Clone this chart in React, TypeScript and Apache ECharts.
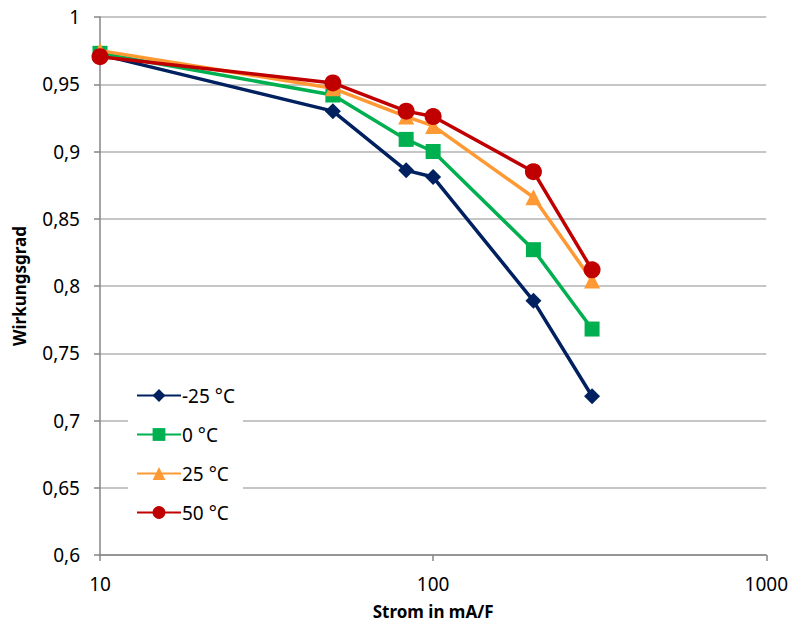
import React, { useEffect, useRef } from "react";
import * as echarts from "echarts";

const xValues = [10, 50, 83, 100, 200, 300];
const seriesNames = ["-25 °C", "0 °C", "25 °C", "50 °C"];
const minus25 = [0.972, 0.93, 0.886, 0.881, 0.789, 0.718];
const zero = [0.973, 0.942, 0.909, 0.9, 0.827, 0.768];
const plus25 = [0.975, 0.947, 0.926, 0.919, 0.866, 0.804];
const plus50 = [0.9705, 0.951, 0.93, 0.926, 0.885, 0.812];
const xTicks = [10, 100, 1000];
const yTicks = [0.6, 0.65, 0.7, 0.75, 0.8, 0.85, 0.9, 0.95, 1];

const colors = ["#002060", "#00B050", "#FF9933", "#C00000"];
const symbols = ["diamond", "rect", "triangle", "circle"];
const symbolSizes = [16, 15, 16, 17];
const allValues = [minus25, zero, plus25, plus50];

export default function App() {
  const ref = useRef<HTMLDivElement>(null);
  useEffect(() => {
    document.body.style.margin = "0";
    const chart = echarts.init(ref.current!, undefined, { renderer: "svg" });
    const font = "Noto Sans";
    chart.setOption({
      animation: false,
      backgroundColor: "#ffffff",
      grid: { left: 100, right: 24, top: 17, bottom: 77 },
      legend: {
        orient: "vertical",
        left: 128,
        top: 379,
        backgroundColor: "#ffffff",
        padding: [7, 8, 8, 8],
        itemWidth: 44,
        itemHeight: 16,
        itemGap: 20,
        textStyle: { fontFamily: font, fontSize: 19, color: "#000", padding: [0, 0, 0, -4] },
        data: seriesNames,
      },
      xAxis: {
        type: "log",
        logBase: 10,
        min: 10,
        max: 1000,
        name: "Strom in mA/F",
        nameLocation: "middle",
        nameGap: 48,
        nameTextStyle: { fontFamily: font, fontSize: 17, fontWeight: "bold", color: "#000" },
        axisLine: { show: true, lineStyle: { color: "#868686", width: 1.5 } },
        axisTick: { show: true, length: 6, lineStyle: { color: "#868686", width: 1.5 } },
        axisLabel: {
          fontFamily: font,
          fontSize: 19,
          color: "#000",
          margin: 19,
          formatter: (v: number) => (xTicks.includes(Math.round(v)) ? String(Math.round(v)) : ""),
        },
        splitLine: { show: false },
        minorTick: { show: false },
      },
      yAxis: {
        type: "value",
        min: 0.6,
        max: 1,
        interval: 0.05,
        name: "Wirkungsgrad",
        nameLocation: "middle",
        nameGap: 72,
        nameTextStyle: { fontFamily: font, fontSize: 17, fontWeight: "bold", color: "#000" },
        axisLine: { show: true, lineStyle: { color: "#868686", width: 1.5 } },
        axisTick: { show: true, length: 6, lineStyle: { color: "#868686", width: 1.5 } },
        axisLabel: {
          fontFamily: font,
          fontSize: 19,
          color: "#000",
          margin: 20,
          formatter: (v: number) => {
            const t = yTicks.find((y) => Math.abs(y - v) < 1e-6);
            return t === undefined ? "" : String(t).replace(".", ",");
          },
        },
        splitLine: { show: true, lineStyle: { color: "#B3B3B3", width: 1.5 } },
      },
      series: seriesNames.map((name, i) => ({
        name,
        type: "line",
        data: xValues.map((x, j) => [x, allValues[i][j]]),
        symbol: symbols[i],
        symbolSize: symbolSizes[i],
        showAllSymbol: true,
        lineStyle: { color: colors[i], width: 3.5 },
        itemStyle: { color: colors[i], borderWidth: 0 },
        z: 2 + i,
      })),
    });
    return () => chart.dispose();
  }, []);
  return <div ref={ref} style={{ width: 791, height: 632 }} />;
}
